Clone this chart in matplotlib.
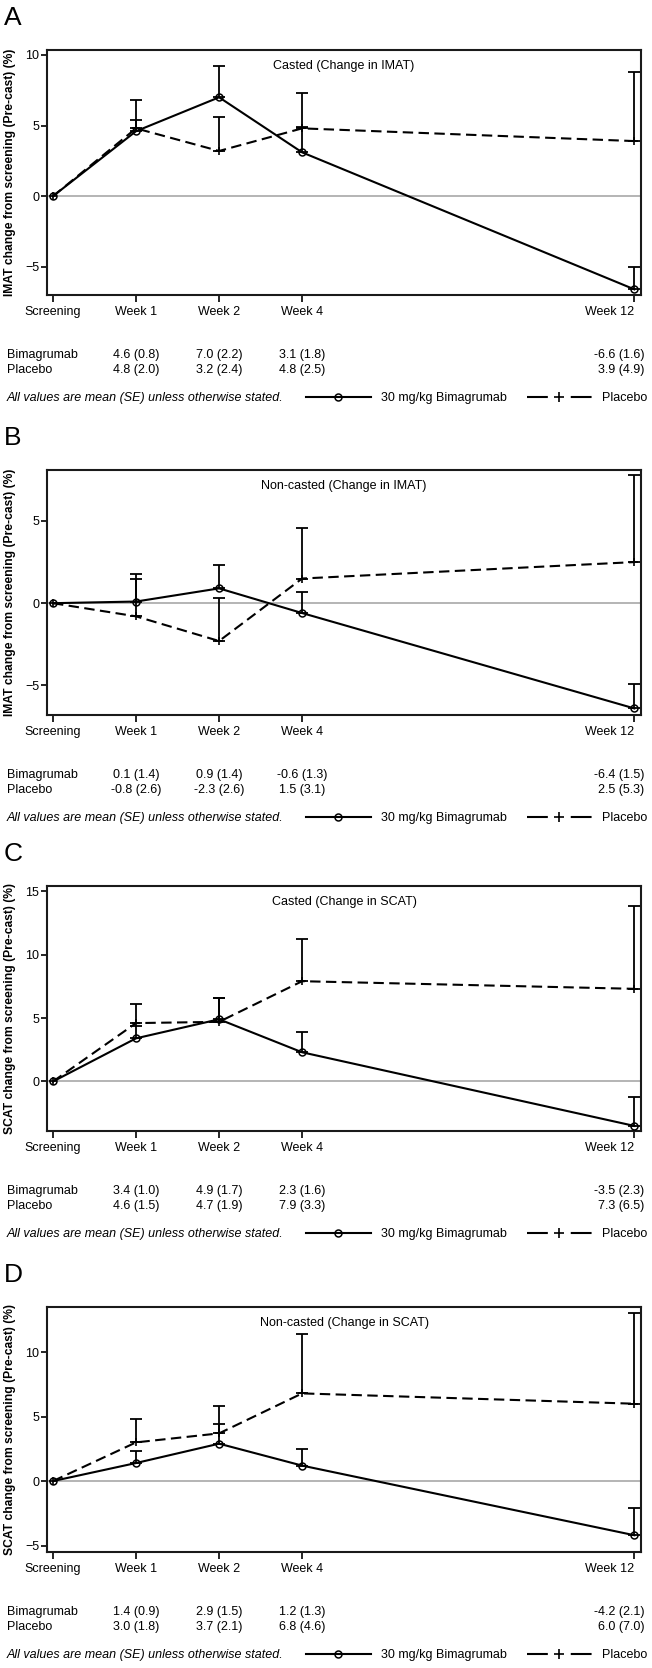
import numpy as np
import matplotlib
matplotlib.use("Agg")
import matplotlib.pyplot as plt
import matplotlib.transforms as mtransforms
from matplotlib.lines import Line2D

plt.rcParams["font.family"] = ["Liberation Sans", "DejaVu Sans"]

# visits on the x axis
visits = ["Screening", "Week 1", "Week 2", "Week 4", "Week 12"]
visit_pos = [0, 1, 2, 3, 7]

panel_letters = ["A", "B", "C", "D"]
panel_titles = ["Casted (Change in IMAT)", "Non-casted (Change in IMAT)",
                "Casted (Change in SCAT)", "Non-casted (Change in SCAT)"]
ylabels = ["IMAT change from screening (Pre-cast) (%)",
           "IMAT change from screening (Pre-cast) (%)",
           "SCAT change from screening (Pre-cast) (%)",
           "SCAT change from screening (Pre-cast) (%)"]

# mean (SE) per visit
bima_A = [0, 4.6, 7.0, 3.1, -6.6]
bima_A_se = [0, 0.8, 2.2, 1.8, 1.6]
plac_A = [0, 4.8, 3.2, 4.8, 3.9]
plac_A_se = [0, 2.0, 2.4, 2.5, 4.9]

bima_B = [0, 0.1, 0.9, -0.6, -6.4]
bima_B_se = [0, 1.4, 1.4, 1.3, 1.5]
plac_B = [0, -0.8, -2.3, 1.5, 2.5]
plac_B_se = [0, 2.6, 2.6, 3.1, 5.3]

bima_C = [0, 3.4, 4.9, 2.3, -3.5]
bima_C_se = [0, 1.0, 1.7, 1.6, 2.3]
plac_C = [0, 4.6, 4.7, 7.9, 7.3]
plac_C_se = [0, 1.5, 1.9, 3.3, 6.5]

bima_D = [0, 1.4, 2.9, 1.2, -4.2]
bima_D_se = [0, 0.9, 1.5, 1.3, 2.1]
plac_D = [0, 3.0, 3.7, 6.8, 6.0]
plac_D_se = [0, 1.8, 2.1, 4.6, 7.0]

bima_all = [bima_A, bima_B, bima_C, bima_D]
bima_se_all = [bima_A_se, bima_B_se, bima_C_se, bima_D_se]
plac_all = [plac_A, plac_B, plac_C, plac_D]
plac_se_all = [plac_A_se, plac_B_se, plac_C_se, plac_D_se]

ylims = [(-7.0, 10.35), (-6.8, 8.1), (-3.9, 15.4), (-5.5, 13.5)]
yticks = [[-5, 0, 5, 10], [-5, 0, 5], [0, 5, 10, 15], [-5, 0, 5, 10]]

W, H = 652, 1668
fig = plt.figure(figsize=(W / 100, H / 100), dpi=100)

def fx(px):
    return px / W

def fy(py):
    return 1 - py / H

axes_tops = [50, 470, 886, 1307]
ax_h = 245
ax_l, ax_r = 47, 641
fs = 9

# legend proxies (the placebo key uses longer dashes than the plot line)
key_bima = Line2D([], [], color="black", lw=1.5, marker="o", ms=5, mfc="none",
                  mew=1.1, label="30 mg/kg Bimagrumab")
key_plac = Line2D([], [], color="black", lw=1.5, dashes=(10, 11), marker="+",
                  ms=7, mew=1.2, label="Placebo")

for i in range(4):
    top = axes_tops[i]
    bottom = top + ax_h
    ax = fig.add_axes([fx(ax_l), fy(bottom), fx(ax_r - ax_l), ax_h / H])

    x = np.array(visit_pos, dtype=float)
    b = np.array(bima_all[i])
    bse = np.array(bima_se_all[i])
    p = np.array(plac_all[i])
    pse = np.array(plac_se_all[i])

    ax.axhline(0, color="#a8a8a8", lw=1.2, zorder=0)

    # one sided error bars (mean + SE)
    m = pse > 0
    ax.errorbar(x[m], p[m], yerr=[np.zeros(m.sum()), pse[m]], fmt="none",
                ecolor="black", elinewidth=1.3, capsize=4, capthick=1.3, zorder=2)
    m = bse > 0
    ax.errorbar(x[m], b[m], yerr=[np.zeros(m.sum()), bse[m]], fmt="none",
                ecolor="black", elinewidth=1.3, capsize=4, capthick=1.3, zorder=2)

    ax.plot(x, p, color="black", lw=1.5, dashes=(5, 2.6), marker="+",
            ms=6, mew=1.2, zorder=3)
    ax.plot(x, b, color="black", lw=1.5, marker="o", ms=5, mfc="none",
            mew=1.1, zorder=4)

    ax.set_xlim(-0.072, 7.08)
    ax.set_ylim(*ylims[i])
    ax.set_yticks(yticks[i])
    ax.set_xticks(visit_pos)
    ax.set_xticklabels(visits)
    # last label sits right-aligned just past its tick
    lab = ax.get_xticklabels()[-1]
    lab.set_ha("right")
    lab.set_transform(lab.get_transform() +
                      mtransforms.ScaledTranslation(12 / 100, 0, fig.dpi_scale_trans))

    for s in ax.spines.values():
        s.set_linewidth(1.5)
        s.set_color("#1a1a1a")
    ax.tick_params(axis="y", direction="out", length=4, width=1.2,
                   labelsize=fs, pad=1.5)
    ax.tick_params(axis="x", direction="out", length=5, width=1.2,
                   labelsize=fs, pad=3)

    ax.set_ylabel(ylabels[i], fontsize=8.7, fontweight="bold")
    ax.yaxis.set_label_coords(-0.052, 0.5)

    ax.text(0.5, 0.96, panel_titles[i], transform=ax.transAxes,
            ha="center", va="top", fontsize=fs)

    fig.text(fx(13), fy(top - 32), panel_letters[i], fontsize=19,
             ha="center", va="center")

    # summary table below the plot
    row_y = [bottom + 60, bottom + 75]
    row_names = ["Bimagrumab", "Placebo"]
    row_vals = [(b, bse), (p, pse)]
    trans = mtransforms.blended_transform_factory(ax.transData, fig.transFigure)
    for r in range(2):
        fig.text(fx(7), fy(row_y[r]), row_names[r], fontsize=fs,
                 ha="left", va="center")
        vals, ses = row_vals[r]
        for k in range(1, len(visits)):
            txt = f"{vals[k]:.1f} ({ses[k]:.1f})"
            if k == len(visits) - 1:
                t = ax.text(visit_pos[k], fy(row_y[r]), txt, fontsize=fs,
                            ha="right", va="center", clip_on=False)
                t.set_transform(trans + mtransforms.ScaledTranslation(
                    10 / 100, 0, fig.dpi_scale_trans))
            else:
                ax.text(visit_pos[k], fy(row_y[r]), txt, fontsize=fs,
                        ha="center", va="center", transform=trans, clip_on=False)

    foot_y = bottom + 103
    fig.text(fx(7), fy(foot_y), "All values are mean (SE) unless otherwise stated.",
             fontsize=fs, style="italic", ha="left", va="center")
    fig.legend(handles=[key_bima, key_plac], loc="center right",
               bbox_to_anchor=(fx(647), fy(foot_y)), ncol=2, frameon=False,
               fontsize=fs, numpoints=1, handlelength=5.2, handletextpad=0.8,
               columnspacing=1.6, borderaxespad=0, borderpad=0)

fig.savefig("out.png", dpi=100)
